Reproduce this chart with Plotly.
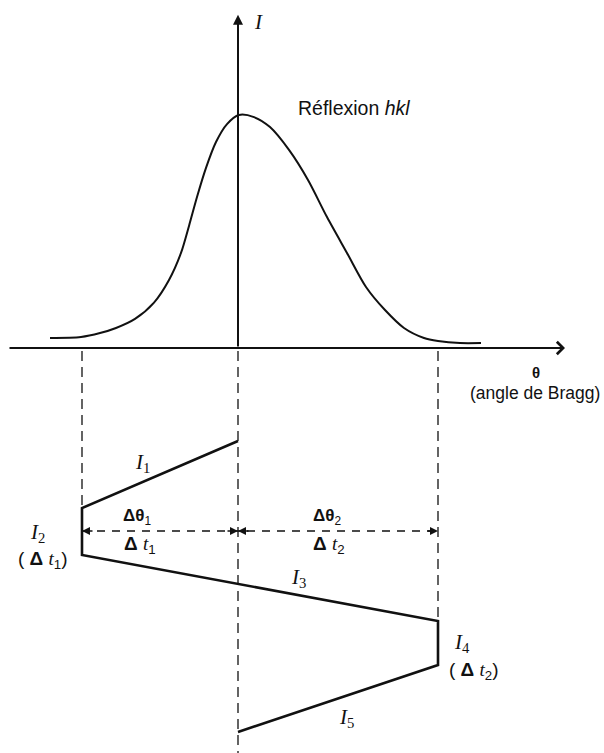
import plotly.graph_objects as go

# Diffraction peak profile: Bragg angle (arbitrary units, peak at 0) and intensity (peak = 1)
theta_profile = [-1.88, -1.57, -1.38, -1.22, -1.03, -0.84, -0.69, -0.57, -0.49, -0.41,
                 -0.32, -0.22, -0.11, 0.01, 0.16, 0.32, 0.51, 0.70, 0.89, 1.09,
                 1.28, 1.47, 1.66, 1.86, 2.00, 2.22, 2.43]
intensity_profile = [0.043, 0.047, 0.064, 0.086, 0.125, 0.195, 0.292, 0.408, 0.524, 0.648,
                     0.773, 0.884, 0.961, 1.000, 0.991, 0.948, 0.850, 0.721, 0.562, 0.408,
                     0.262, 0.163, 0.086, 0.043, 0.030, 0.021, 0.021]

# Scan limits: background start, peak centre, background end
theta_limits = [-1.56, 0.0, 2.00]

# Measurement sequence (angle, elapsed time downward): I1, I2, I3, I4, I5
scan_theta = [0.0, -1.56, -1.56, 2.00, 2.00, 0.0]
scan_time = [0.93, 1.60, 2.07, 2.73, 3.17, 3.84]
interval_time = 1.83

SANS = "Liberation Sans, Arial, sans-serif"
SERIF = "Liberation Serif, Times New Roman, serif"
BLACK = "#111111"

fig = go.Figure()

# Peak profile
fig.add_trace(go.Scatter(x=theta_profile, y=intensity_profile, mode="lines",
                         line=dict(color=BLACK, width=2, shape="spline", smoothing=0.8),
                         hoverinfo="skip"))

# Dashed projection lines from the θ axis down to the scan diagram
dash_ends = [scan_time[1], 4.10, scan_time[3]]
for th, t_end in zip(theta_limits, dash_ends):
    fig.add_trace(go.Scatter(x=[th, th], y=[0.03, t_end], mode="lines", yaxis="y2",
                             line=dict(color=BLACK, width=1.3, dash="10px,6px"),
                             hoverinfo="skip"))

# Scan path I1..I5
fig.add_trace(go.Scatter(x=scan_theta, y=scan_time, mode="lines", yaxis="y2",
                         line=dict(color=BLACK, width=2.6), hoverinfo="skip"))

# Dashed interval line Δθ1 / Δθ2
fig.add_trace(go.Scatter(x=[theta_limits[0], theta_limits[2]], y=[interval_time] * 2,
                         mode="lines", yaxis="y2",
                         line=dict(color=BLACK, width=1.3, dash="8px,7px"),
                         hoverinfo="skip"))

ann = []

# Axes drawn as arrows
ann.append(dict(x=0, y=1.43, ax=0, ay=0, xref="x", yref="y", axref="x", ayref="y",
                text="", showarrow=True, arrowhead=2, arrowsize=1, arrowwidth=2,
                arrowcolor=BLACK))
ann.append(dict(x=3.27, y=0, ax=-2.30, ay=0, xref="x", yref="y", axref="x", ayref="y",
                text="", showarrow=True, arrowhead=4, arrowsize=1.2, arrowwidth=2,
                arrowcolor=BLACK))

# Arrowheads of the interval line
for tip, tail in [(theta_limits[0], theta_limits[0] + 0.12),
                  (theta_limits[1], theta_limits[1] - 0.12),
                  (theta_limits[1], theta_limits[1] + 0.12),
                  (theta_limits[2], theta_limits[2] - 0.12)]:
    ann.append(dict(x=tip, y=interval_time, ax=tail, ay=interval_time,
                    xref="x", yref="y2", axref="x", ayref="y2", text="",
                    showarrow=True, arrowhead=2, arrowsize=1, arrowwidth=1.6,
                    arrowcolor=BLACK, standoff=0, startstandoff=0))


def label(x, y, text, yref="y2", size=17, family=SANS):
    ann.append(dict(x=x, y=y, xref="x", yref=yref, text=text, showarrow=False,
                    font=dict(family=family, size=size, color=BLACK),
                    xanchor="center", yanchor="middle"))


T = "<i style='font-family:Liberation Serif'>t</i>"

label(0.20, 1.40, "<i>I</i>", yref="y", size=21, family=SERIF)
label(1.16, 1.03, "Réflexion <i>hkl</i>", yref="y", size=19.5)
label(2.98, 0.24, "<b>θ</b>", size=15)
label(2.97, 0.45, "(angle de Bragg)", size=17.5)

label(-0.96, 1.15, "<i>I</i><sub>1</sub>", size=21, family=SERIF)
label(-1.01, 1.69, "<b>Δθ</b><sub>1</sub>", size=17)
label(-0.98, 1.97, "<b>Δ</b> " + T + "<sub>1</sub>", size=19)
label(0.89, 1.69, "<b>Δθ</b><sub>2</sub>", size=17)
label(0.91, 1.97, "<b>Δ</b> " + T + "<sub>2</sub>", size=19)
label(-2.01, 1.85, "<i>I</i><sub>2</sub>", size=21, family=SERIF)
label(-1.95, 2.12, "( <b>Δ</b> " + T + "<sub>1</sub>)", size=19)
label(0.60, 2.30, "<i>I</i><sub>3</sub>", size=21, family=SERIF)
label(2.24, 2.95, "<i>I</i><sub>4</sub>", size=21, family=SERIF)
label(2.36, 3.23, "( <b>Δ</b> " + T + "<sub>2</sub>)", size=19)
label(1.08, 3.70, "<i>I</i><sub>5</sub>", size=21, family=SERIF)

fig.update_layout(
    width=604, height=753,
    margin=dict(l=0, r=0, t=0, b=0),
    paper_bgcolor="white", plot_bgcolor="white",
    showlegend=False,
    xaxis=dict(range=[-2.38, 3.66], visible=False, fixedrange=True),
    yaxis=dict(range=[-1.7382, 1.4936], visible=False, fixedrange=True, domain=[0, 1]),
    yaxis2=dict(range=[4.05, -3.48], visible=False, fixedrange=True,
                overlaying="y", domain=[0, 1]),
    annotations=ann,
)

fig.write_html("out.html", config={"displayModeBar": False})
